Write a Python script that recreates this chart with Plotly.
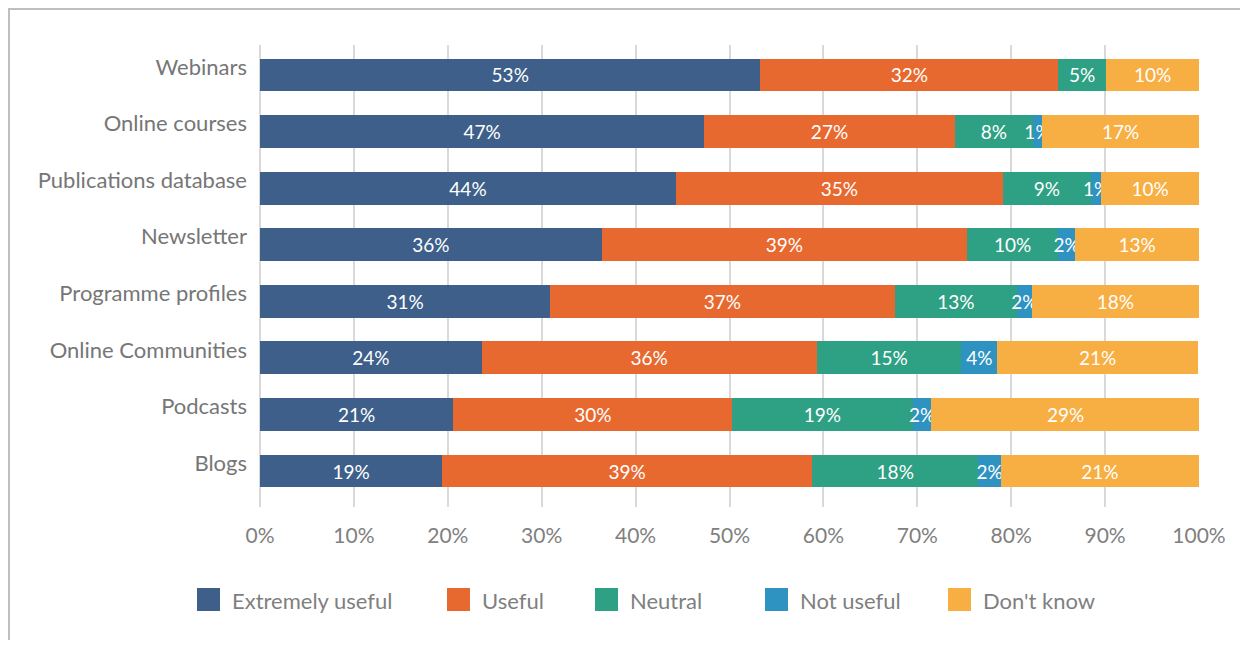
import plotly.graph_objects as go

categories = ["Webinars", "Online courses", "Publications database", "Newsletter",
              "Programme profiles", "Online Communities", "Podcasts", "Blogs"]
series_names = ["Extremely useful", "Useful", "Neutral", "Not useful", "Don't know"]
extremely_useful = [53.3, 47.3, 44.3, 36.4, 30.9, 23.6, 20.6, 19.4]
useful = [31.7, 26.7, 34.8, 38.9, 36.7, 35.7, 29.7, 39.4]
neutral = [5.1, 8.3, 9.4, 9.7, 13.0, 15.4, 19.2, 17.7]
not_useful = [0.0, 1.0, 1.1, 1.8, 1.6, 3.8, 2.0, 2.4]
dont_know = [9.9, 16.7, 10.4, 13.2, 17.8, 21.4, 28.6, 21.1]
tick_vals = [0, 10, 20, 30, 40, 50, 60, 70, 80, 90, 100]
tick_text = ["0%", "10%", "20%", "30%", "40%", "50%", "60%", "70%", "80%", "90%", "100%"]

colors = ["#3E5F8A", "#E8692F", "#2EA084", "#2E93C1", "#F7AE42"]
series = [extremely_useful, useful, neutral, not_useful, dont_know]

FONT = "Lato"
OFF = 8  # page body margin
W, H = 1248 - 2 * OFF, 648 - 2 * OFF
L, R, T, B = 260 - OFF, 1199 - OFF, 45 - OFF, 507 - OFF

fig = go.Figure()
for name, vals, col in zip(series_names, series, colors):
    fig.add_trace(go.Bar(
        y=categories, x=vals, name=name, orientation="h",
        marker=dict(color=col, line=dict(width=0)),
        text=[f"{v:.0f}%" if v > 0 else "" for v in vals],
        textposition="inside", insidetextanchor="middle", textangle=0,
        textfont=dict(family=FONT, size=19, color="white"),
        showlegend=False, hoverinfo="skip",
    ))

def px2x(px):
    return (px - OFF - L) / (R - L)

def py2y(py):
    return (B - (py - OFF)) / (B - T)

shapes = []
annotations = []
# outer frame
shapes.append(dict(type="rect", xref="paper", yref="paper",
                   x0=px2x(9), x1=px2x(1400), y0=py2y(9), y1=py2y(800),
                   line=dict(color="#BFBFBF", width=2), fillcolor="rgba(0,0,0,0)", layer="below"))
# custom legend
legend_px = [197, 447, 595, 765, 948]
for name, col, lx in zip(series_names, colors, legend_px):
    shapes.append(dict(type="rect", xref="paper", yref="paper",
                       x0=px2x(lx), x1=px2x(lx + 23), y0=py2y(611), y1=py2y(588),
                       line=dict(width=0), fillcolor=col))
    annotations.append(dict(xref="paper", yref="paper", x=px2x(lx + 33), y=py2y(600),
                            text=name, showarrow=False, xanchor="left", yanchor="middle",
                            font=dict(family=FONT, size=22, color="#7F7F7F")))

fig.update_layout(
    barmode="stack", bargap=0.42,
    width=W, height=H,
    margin=dict(l=L, r=W - R, t=T, b=H - B, autoexpand=False),
    paper_bgcolor="white", plot_bgcolor="white",
    font=dict(family=FONT, color="#7F7F7F"),
    uniformtext=dict(minsize=19, mode="show"),
    shapes=shapes, annotations=annotations,
    xaxis=dict(range=[0, 100], tickvals=tick_vals, ticktext=tick_text,
               showgrid=True, gridcolor="#D9D9D9", gridwidth=2,
               zeroline=True, zerolinecolor="#D9D9D9", zerolinewidth=2,
               showline=False, ticks="", ticklabelstandoff=14,
               tickfont=dict(family=FONT, size=21, color="#808080"), fixedrange=True),
    yaxis=dict(range=[7.636, -0.53], showgrid=False, zeroline=False, showline=False,
               ticks="", ticklabelstandoff=12, ticklabelshift=8,
               tickfont=dict(family=FONT, size=22, color="#767676"), fixedrange=True),
    showlegend=False,
)

fig.write_html("out.html")
